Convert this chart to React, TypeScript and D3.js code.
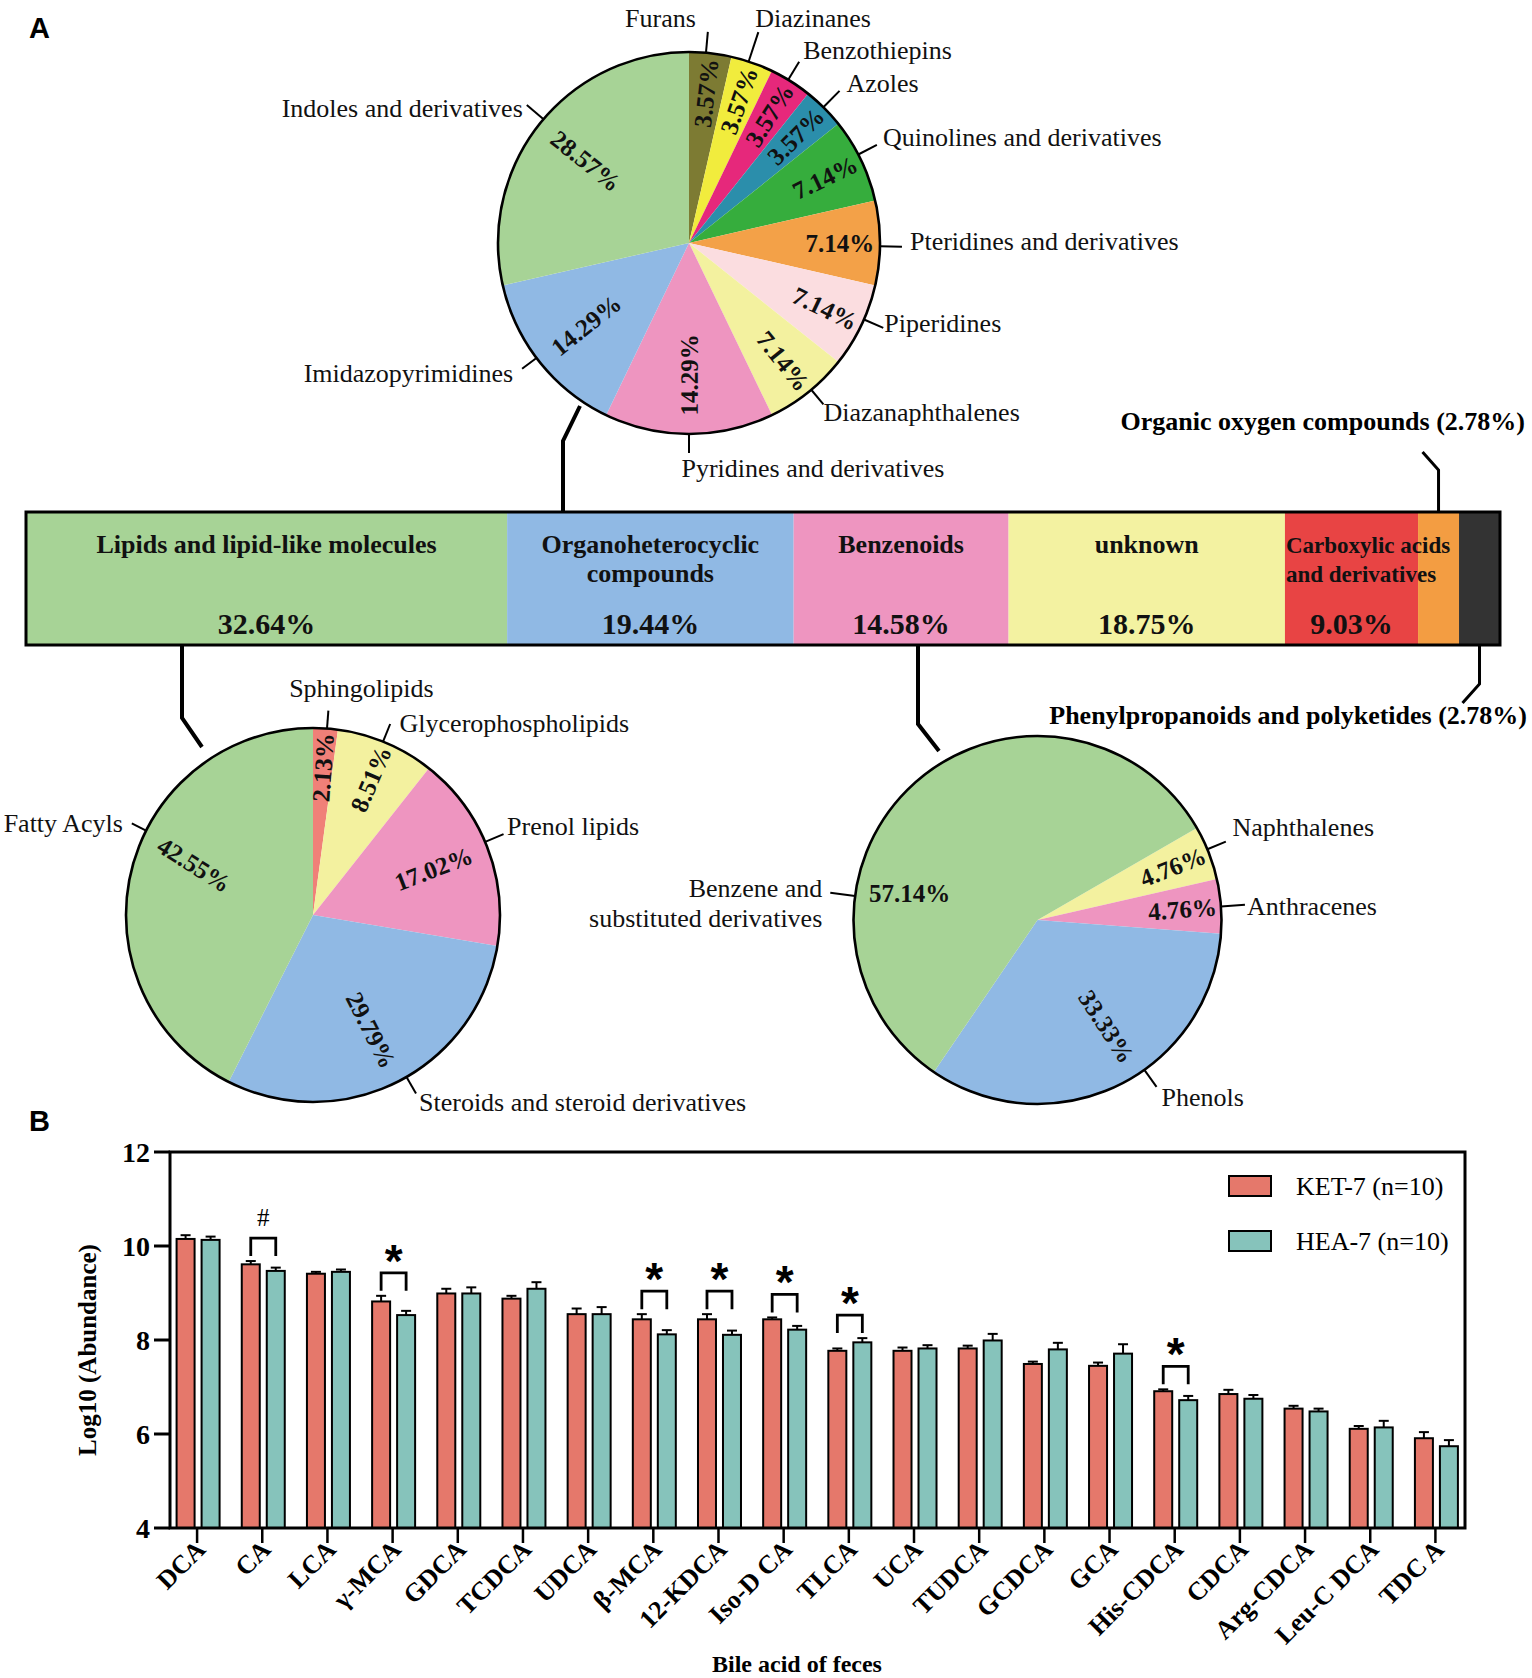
import React from "react";
import * as d3 from "d3";

// ---------------- Data ----------------
const mainCategories = [
  "Lipids and lipid-like molecules",
  "Organoheterocyclic compounds",
  "Benzenoids",
  "unknown",
  "Carboxylic acids and derivatives",
  "Organic oxygen compounds",
  "Phenylpropanoids and polyketides",
];
const mainPercents = [32.64, 19.44, 14.58, 18.75, 9.03, 2.78, 2.78];

const heteroClasses = [
  "Furans",
  "Diazinanes",
  "Benzothiepins",
  "Azoles",
  "Quinolines and derivatives",
  "Pteridines and derivatives",
  "Piperidines",
  "Diazanaphthalenes",
  "Pyridines and derivatives",
  "Imidazopyrimidines",
  "Indoles and derivatives",
];
const heteroPercents = [3.57, 3.57, 3.57, 3.57, 7.14, 7.14, 7.14, 7.14, 14.29, 14.29, 28.57];

const lipidClasses = [
  "Sphingolipids",
  "Glycerophospholipids",
  "Prenol lipids",
  "Steroids and steroid derivatives",
  "Fatty Acyls",
];
const lipidPercents = [2.13, 8.51, 17.02, 29.79, 42.55];

const benzClasses = ["Naphthalenes", "Anthracenes", "Phenols", "Benzene and substituted derivatives"];
const benzPercents = [4.76, 4.76, 33.33, 57.14];

const bileAcids = [
  "DCA", "CA", "LCA", "γ-MCA", "GDCA", "TCDCA", "UDCA", "β-MCA", "12-KDCA", "Iso-D CA",
  "TLCA", "UCA", "TUDCA", "GCDCA", "GCA", "His-CDCA", "CDCA", "Arg-CDCA", "Leu-C DCA", "TDC A",
];
const groupNames = ["KET-7 (n=10)", "HEA-7 (n=10)"];
const ketMean = [10.15, 9.61, 9.41, 8.82, 8.99, 8.88, 8.55, 8.44, 8.44, 8.44, 7.77, 7.77, 7.82, 7.49, 7.45, 6.91, 6.85, 6.54, 6.11, 5.91];
const ketSem = [0.08, 0.07, 0.04, 0.12, 0.1, 0.06, 0.12, 0.11, 0.11, 0.04, 0.05, 0.07, 0.06, 0.05, 0.07, 0.04, 0.09, 0.06, 0.06, 0.13];
const heaMean = [10.13, 9.47, 9.45, 8.53, 8.99, 9.09, 8.55, 8.12, 8.11, 8.22, 7.95, 7.82, 7.99, 7.8, 7.71, 6.72, 6.75, 6.48, 6.14, 5.74];
const heaSem = [0.07, 0.07, 0.05, 0.09, 0.13, 0.14, 0.15, 0.09, 0.09, 0.08, 0.09, 0.07, 0.14, 0.14, 0.2, 0.09, 0.08, 0.06, 0.14, 0.13];
const sigIndex = [1, 3, 7, 8, 9, 10, 15];
const sigSymbol = ["#", "*", "*", "*", "*", "*", "*"];
const yTicks = [4, 6, 8, 10, 12];

// ---------------- Styles / layout ----------------
const SERIF = "'Times New Roman', 'Liberation Serif', Times, serif";
const SANS = "Arial, 'Liberation Sans', Helvetica, sans-serif";
const W = 1532;
const H = 1678;

const mainColors = ["#a7d396", "#90b9e4", "#ee95c0", "#f3f2a1", "#e84444", "#f39d42", "#333333"];
const heteroColors = ["#7d7b33", "#f1ec3d", "#e6287b", "#2b8eab", "#36ad3d", "#f3a148", "#fbdde0", "#f3f19f", "#ee95c0", "#90b9e4", "#a7d396"];
const lipidColors = ["#f08078", "#f3f19f", "#ee95c0", "#90b9e4", "#a7d396"];
const benzColors = ["#f3f19f", "#ee95c0", "#90b9e4", "#a7d396"];
const ketColor = "#e5786b";
const heaColor = "#86c3bb";

type PieLbl = {
  a: number;
  len: number;
  anchor: "start" | "end" | "middle";
  dx: number;
  dy: number;
  breakAfter?: number;
  pctAngle?: number;
  rot?: number;
  pctR?: number;
};

const heteroLabels: PieLbl[] = [
  { a: 5.1, len: 21, anchor: "end", dx: -12, dy: -5 },
  { a: 18.2, len: 31, anchor: "start", dx: -3, dy: -5.5 },
  { a: 31.3, len: 21, anchor: "start", dx: 4, dy: -3 },
  { a: 44.7, len: 23, anchor: "start", dx: 7, dy: 1.6 },
  { a: 62.4, len: 21, anchor: "start", dx: 6, dy: 1.2 },
  { a: 91, len: 22, anchor: "start", dx: 8, dy: 3 },
  { a: 113.6, len: 21, anchor: "start", dx: 1, dy: 4.6 },
  { a: 140.2, len: 19, anchor: "start", dx: 0, dy: 16.6 },
  { a: 180, len: 19, anchor: "start", dx: -7.5, dy: 24 },
  { a: 233, len: 18, anchor: "end", dx: -9, dy: 13.7 },
  { a: 310.4, len: 22, anchor: "end", dx: -4, dy: 12.5 },
];
const lipidLabels: PieLbl[] = [
  { a: 4.3, len: 18, anchor: "middle", dx: 33, dy: -13.6 },
  { a: 22, len: 19, anchor: "start", dx: 9.4, dy: 8 },
  { a: 67, len: 20, anchor: "start", dx: 3.5, dy: 0.5 },
  { a: 150, len: 19, anchor: "start", dx: 3, dy: 18 },
  { a: 296.8, len: 16, anchor: "end", dx: -9, dy: 8.5, pctAngle: 293, rot: 32 },
];
const benzLabels: PieLbl[] = [
  { a: 67.4, len: 20, anchor: "start", dx: 6.7, dy: -5.6 },
  { a: 85.8, len: 24, anchor: "start", dx: 2, dy: 10.7 },
  { a: 144.5, len: 21, anchor: "start", dx: 5, dy: 18.7, pctAngle: 147 },
  { a: 277.5, len: 25, anchor: "end", dx: -8, dy: 4.3, breakAfter: 2, pctAngle: 282, rot: 0, pctR: 0.71 },
];

function polar(cx: number, cy: number, R: number, deg: number): [number, number] {
  const t = (deg * Math.PI) / 180;
  return [cx + R * Math.sin(t), cy - R * Math.cos(t)];
}

function PieChart(props: {
  cx: number;
  cy: number;
  r: number;
  names: string[];
  values: number[];
  colors: string[];
  startDeg: number;
  labels: PieLbl[];
}) {
  const { cx, cy, r, names, values, colors, startDeg, labels } = props;
  const s = (startDeg * Math.PI) / 180;
  const pieGen = d3
    .pie<number>()
    .sort(null)
    .value((d) => d)
    .startAngle(s)
    .endAngle(s + 2 * Math.PI);
  const arcs = pieGen(values);
  const arcGen = d3.arc<d3.PieArcDatum<number>>().innerRadius(0).outerRadius(r);
  return (
    <g>
      <g transform={`translate(${cx},${cy})`}>
        {arcs.map((a, i) => (
          <path key={i} d={arcGen(a) || ""} fill={colors[i]} />
        ))}
        <circle r={r} fill="none" stroke="#000" strokeWidth={2.6} />
      </g>
      {arcs.map((a, i) => {
        const mid = (((a.startAngle + a.endAngle) / 2) * 180) / Math.PI;
        const L = labels[i];
        const pa = L.pctAngle ?? mid;
        const pr = (L.pctR ?? (values[i] < 10 ? 0.79 : 0.69)) * r;
        const [px, py] = polar(cx, cy, pr, pa);
        const n = ((pa % 360) + 360) % 360;
        const rot = L.rot ?? (n < 178 ? n - 90 : n - 270);
        const [x1, y1] = polar(cx, cy, r, L.a);
        const [x2, y2] = polar(cx, cy, r + L.len, L.a);
        const words = names[i].split(" ");
        const lines = L.breakAfter
          ? [words.slice(0, L.breakAfter).join(" "), words.slice(L.breakAfter).join(" ")]
          : [names[i]];
        return (
          <g key={"l" + i}>
            <text
              transform={`translate(${px},${py}) rotate(${rot})`}
              textAnchor="middle"
              dy="0.35em"
              fontFamily={SERIF}
              fontWeight="bold"
              fontSize={25}
              fill="#111"
            >
              {values[i].toFixed(2) + "%"}
            </text>
            <line x1={x1} y1={y1} x2={x2} y2={y2} stroke="#000" strokeWidth={2} />
            {lines.map((t, k) => (
              <text
                key={k}
                x={x2 + L.dx}
                y={y2 + L.dy + k * 30}
                textAnchor={L.anchor}
                fontFamily={SERIF}
                fontSize={26}
                fill="#111"
              >
                {t}
              </text>
            ))}
          </g>
        );
      })}
    </g>
  );
}

function splitWords(name: string, n: number): string[] {
  const w = name.split(" ");
  return n ? [w.slice(0, n).join(" "), w.slice(n).join(" ")] : [name];
}

export default function App() {
  // ---- main stacked bar ----
  const barTop = 512;
  const barBot = 645;
  const xMain = d3.scaleLinear().domain([0, 100]).range([26, 1500]);
  const cum = d3.cumsum(mainPercents);
  const segs = mainPercents.map((v, i) => ({
    name: mainCategories[i],
    v,
    x0: xMain(i === 0 ? 0 : cum[i - 1]),
    x1: xMain(Math.min(100, cum[i])),
  }));
  const segBreaks = [0, 1, 0, 0, 2];

  // ---- bile acid bar chart ----
  const yS = d3.scaleLinear().domain([4, 12]).range([1528, 1152]);
  const xS = d3.scaleBand<string>().domain(bileAcids).range([164.5, 1468]);
  const plotL = 170;
  const plotR = 1465;
  const cx = (i: number) => (xS(bileAcids[i]) as number) + xS.bandwidth() / 2;
  const barW = 18;
  const redX = (i: number) => cx(i) + 1 - 21.5;
  const tealX = (i: number) => cx(i) + 1 + 3.5;

  const connector = (pts: [number, number][]) => d3.line()(pts) || "";

  return (
    <svg
      width={W}
      height={H}
      viewBox={`0 0 ${W} ${H}`}
      style={{ position: "absolute", left: 0, top: 0, background: "#fff" }}
    >
      <rect x={0} y={0} width={W} height={H} fill="#fff" />
      {/* Panel labels */}
      <text x={29} y={38} fontFamily={SANS} fontWeight="bold" fontSize={29}>A</text>
      <text x={29} y={1131} fontFamily={SANS} fontWeight="bold" fontSize={29}>B</text>

      {/* Top pie: Organoheterocyclic compounds */}
      <PieChart cx={689} cy={243} r={191} names={heteroClasses} values={heteroPercents} colors={heteroColors} startDeg={0} labels={heteroLabels} />
      {/* Lipid pie */}
      <PieChart cx={313} cy={915} r={187} names={lipidClasses} values={lipidPercents} colors={lipidColors} startDeg={0} labels={lipidLabels} />
      {/* Benzenoid pie */}
      <PieChart cx={1037.5} cy={920} r={184} names={benzClasses} values={benzPercents} colors={benzColors} startDeg={60} labels={benzLabels} />

      {/* Connectors from bar to pies */}
      <g fill="none" stroke="#000" strokeWidth={4} strokeLinejoin="miter">
        <path d={connector([[580, 406], [563, 441], [563, barTop]])} />
        <path d={connector([[182, barBot], [182, 718], [202, 747]])} />
        <path d={connector([[918, barBot], [918, 724], [939, 751]])} />
      </g>

      {/* Main stacked bar */}
      <g>
        {segs.map((s, i) => (
          <rect key={i} x={s.x0} y={barTop} width={s.x1 - s.x0} height={barBot - barTop} fill={mainColors[i]} />
        ))}
        <rect x={xMain(0)} y={barTop} width={xMain(100) - xMain(0)} height={barBot - barTop} fill="none" stroke="#000" strokeWidth={3} />
        {segs.slice(0, 5).map((s, i) => {
          const mid = (s.x0 + s.x1) / 2;
          const lines = splitWords(s.name, segBreaks[i]);
          const leftAligned = i === 4;
          return (
            <g key={"t" + i} fontFamily={SERIF} fontWeight="bold" fill="#111">
              {lines.map((t, k) => (
                <text
                  key={k}
                  x={leftAligned ? s.x0 + 1 : mid}
                  y={553 + k * 29}
                  textAnchor={leftAligned ? "start" : "middle"}
                  fontSize={leftAligned ? 23 : 26}
                >
                  {t}
                </text>
              ))}
              <text x={mid} y={634} textAnchor="middle" fontSize={30}>
                {s.v.toFixed(2) + "%"}
              </text>
            </g>
          );
        })}
        {/* External labels for small segments */}
        {(() => {
          const s5 = segs[5];
          const m5 = (s5.x0 + s5.x1) / 2;
          const s6 = segs[6];
          const m6 = (s6.x0 + s6.x1) / 2;
          return (
            <g>
              <path d={connector([[m5 - 16, 452], [m5, 470], [m5, barTop]])} fill="none" stroke="#000" strokeWidth={3} />
              <text x={1525} y={430} textAnchor="end" fontFamily={SERIF} fontWeight="bold" fontSize={26}>
                {`${s5.name} (${s5.v.toFixed(2)}%)`}
              </text>
              <path d={connector([[m6, barBot], [m6, 684], [m6 - 17, 703]])} fill="none" stroke="#000" strokeWidth={3} />
              <text x={1527} y={724} textAnchor="end" fontFamily={SERIF} fontWeight="bold" fontSize={26}>
                {`${s6.name} (${s6.v.toFixed(2)}%)`}
              </text>
            </g>
          );
        })()}
      </g>

      {/* ---- Bar chart B ---- */}
      <g>
        {/* Bars */}
        {bileAcids.map((b, i) => (
          <g key={b}>
            <rect x={redX(i)} y={yS(ketMean[i])} width={barW} height={yS(4) - yS(ketMean[i])} fill={ketColor} stroke="#000" strokeWidth={2} />
            <rect x={tealX(i)} y={yS(heaMean[i])} width={barW} height={yS(4) - yS(heaMean[i])} fill={heaColor} stroke="#000" strokeWidth={2} />
            {/* error bars */}
            <g stroke="#000" strokeWidth={2}>
              <line x1={redX(i) + barW / 2} x2={redX(i) + barW / 2} y1={yS(ketMean[i])} y2={yS(ketMean[i] + ketSem[i])} />
              <line x1={redX(i) + barW / 2 - 5} x2={redX(i) + barW / 2 + 5} y1={yS(ketMean[i] + ketSem[i])} y2={yS(ketMean[i] + ketSem[i])} />
              <line x1={tealX(i) + barW / 2} x2={tealX(i) + barW / 2} y1={yS(heaMean[i])} y2={yS(heaMean[i] + heaSem[i])} />
              <line x1={tealX(i) + barW / 2 - 5} x2={tealX(i) + barW / 2 + 5} y1={yS(heaMean[i] + heaSem[i])} y2={yS(heaMean[i] + heaSem[i])} />
            </g>
          </g>
        ))}

        {/* Significance brackets */}
        {sigIndex.map((i, k) => {
          const top = Math.min(yS(ketMean[i] + ketSem[i]), yS(heaMean[i] + heaSem[i]));
          const legB = top - 5;
          const bTop = legB - 18;
          const xa = redX(i) + barW / 2;
          const xb = tealX(i) + barW / 2;
          const isHash = sigSymbol[k] === "#";
          return (
            <g key={"s" + i}>
              <path d={`M${xa},${legB}V${bTop}H${xb}V${legB}`} fill="none" stroke="#000" strokeWidth={2.8} />
              <text
                x={(xa + xb) / 2}
                y={isHash ? bTop - 12 : bTop + 4}
                textAnchor="middle"
                fontFamily={isHash ? SERIF : SANS}
                fontWeight={isHash ? "normal" : "bold"}
                fontSize={isHash ? 25 : 46}
              >
                {sigSymbol[k]}
              </text>
            </g>
          );
        })}

        {/* Frame / axes */}
        <rect x={plotL} y={yS(12)} width={plotR - plotL} height={yS(4) - yS(12)} fill="none" stroke="#000" strokeWidth={3} />
        {yTicks.map((t) => (
          <g key={"y" + t}>
            <line x1={154} x2={plotL} y1={yS(t)} y2={yS(t)} stroke="#000" strokeWidth={3} />
            <text x={150} y={yS(t)} dy="0.35em" textAnchor="end" fontFamily={SERIF} fontWeight="bold" fontSize={28}>
              {t}
            </text>
          </g>
        ))}
        {bileAcids.map((b, i) => (
          <g key={"x" + b}>
            <line x1={cx(i)} x2={cx(i)} y1={yS(4)} y2={yS(4) + 15} stroke="#000" strokeWidth={2.5} />
            <text
              transform={`translate(${cx(i) + 10},1551) rotate(-45)`}
              textAnchor="end"
              fontFamily={SERIF}
              fontWeight="bold"
              fontSize={26}
            >
              {b}
            </text>
          </g>
        ))}
        <text transform="translate(96,1350) rotate(-90)" textAnchor="middle" fontFamily={SERIF} fontWeight="bold" fontSize={25}>
          Log10 (Abundance)
        </text>
        <text x={797} y={1672} textAnchor="middle" fontFamily={SERIF} fontWeight="bold" fontSize={24}>
          Bile acid of feces
        </text>

        {/* Legend */}
        {groupNames.map((g, k) => (
          <g key={g}>
            <rect x={1229} y={1176 + k * 55} width={42} height={20} fill={k === 0 ? ketColor : heaColor} stroke="#000" strokeWidth={2} />
            <text x={1296} y={1195 + k * 55} fontFamily={SERIF} fontSize={26}>
              {g}
            </text>
          </g>
        ))}
      </g>
    </svg>
  );
}
